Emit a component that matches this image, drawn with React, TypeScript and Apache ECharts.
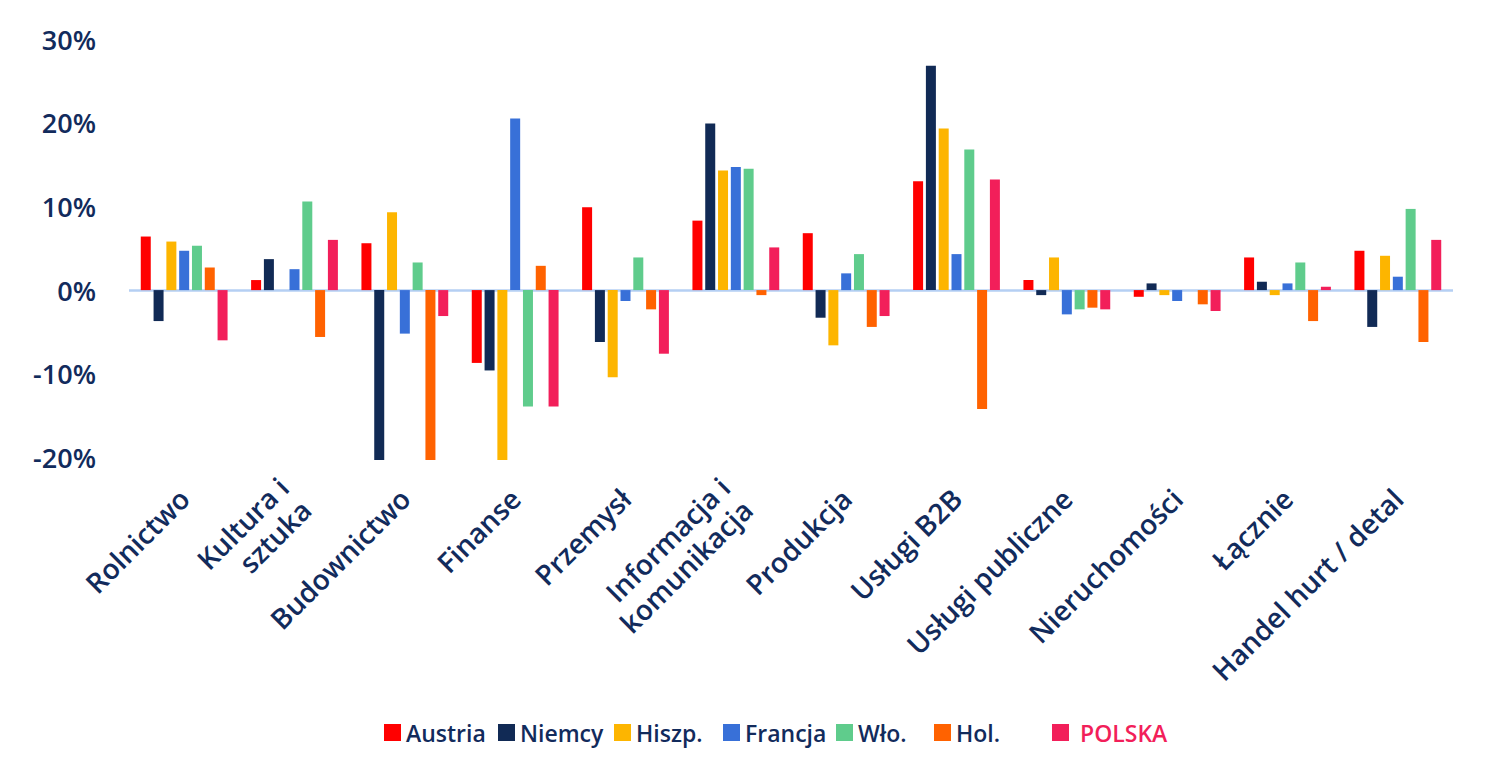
import React, { useEffect, useRef } from "react";
import * as echarts from "echarts";

const categories = [
  "Rolnictwo",
  "Kultura i\nsztuka",
  "Budownictwo",
  "Finanse",
  "Przemysł",
  "Informacja i\nkomunikacja",
  "Produkcja",
  "Usługi B2B",
  "Usługi publiczne",
  "Nieruchomości",
  "Łącznie",
  "Handel hurt / detal",
];

const austria = [6.4, 1.2, 5.6, -8.7, 9.9, 8.3, 6.8, 13.0, 1.2, -0.8, 3.9, 4.7];
const niemcy = [-3.7, 3.7, -20.3, -9.6, -6.2, 19.9, -3.3, 26.8, -0.6, 0.8, 1.0, -4.4];
const hiszp = [5.8, 0, 9.3, -20.3, -10.4, 14.3, -6.6, 19.3, 3.9, -0.6, -0.6, 4.1];
const francja = [4.7, 2.5, -5.2, 20.5, -1.3, 14.7, 2.0, 4.3, -2.9, -1.3, 0.8, 1.6];
const wlo = [5.3, 10.6, 3.3, -13.9, 3.9, 14.5, 4.3, 16.8, -2.3, 0, 3.3, 9.7];
const hol = [2.7, -5.6, -20.3, 2.9, -2.3, -0.6, -4.4, -14.2, -2.1, -1.7, -3.7, -6.2];
const polska = [-6.0, 6.0, -3.1, -13.9, -7.6, 5.1, -3.1, 13.2, -2.3, -2.5, 0.4, 6.0];

const seriesNames = ["Austria", "Niemcy", "Hiszp.", "Francja", "Wło.", "Hol.", "POLSKA"];
const seriesData = [austria, niemcy, hiszp, francja, wlo, hol, polska];
const seriesColors = ["#ff0000", "#112a55", "#fdb500", "#3870d8", "#5fcc8c", "#ff6200", "#f21f5a"];

const yTicks = [-20, -10, 0, 10, 20, 30];

const NAVY = "#122b5c";
const FONT = "Open Sans";
const legendLefts = [379, 493, 609, 718, 831, 929, 1047];

export default function App() {
  const ref = useRef<HTMLDivElement>(null);

  useEffect(() => {
    if (!ref.current) return;
    const chart = echarts.init(ref.current, undefined, { renderer: "svg" });

    const series: any[] = seriesNames.map((name, i) => ({
      name,
      type: "bar",
      data: seriesData[i],
      barWidth: 10,
      barGap: "28%",
      clip: false,
      itemStyle: { color: seriesColors[i] },
      ...(i === 0
        ? {
            markLine: {
              silent: true,
              symbol: "none",
              label: { show: false },
              lineStyle: { color: "#b5cff3", width: 2.5, type: "solid" },
              data: [{ yAxis: 0 }],
              z: 1,
            },
          }
        : {}),
    }));

    const legends = seriesNames.map((name, i) => ({
      data: [name],
      left: legendLefts[i],
      top: 716,
      icon: "rect",
      itemWidth: 17,
      itemHeight: 17,
      textStyle: {
        color: i === 6 ? "#f21f5a" : NAVY,
        fontSize: 23,
        fontFamily: FONT,
        fontWeight: 600,
        padding: i === 6 ? [0, 0, 0, 6] : [0, 0, 0, 0],
      },
    }));

    chart.setOption({
      animation: false,
      backgroundColor: "#ffffff",
      grid: { left: 129, right: 40, top: 39, bottom: 325.5, containLabel: false },
      legend: legends,
      xAxis: {
        type: "category",
        data: categories,
        axisLine: { show: false, onZero: false },
        axisTick: { show: false },
        axisLabel: {
          rotate: 45,
          margin: 36,
          interval: 0,
          color: NAVY,
          fontSize: 28,
          fontFamily: FONT,
          fontWeight: 600,
          lineHeight: 32,
        },
      },
      yAxis: {
        type: "value",
        min: -20,
        max: 30,
        interval: 10,
        splitLine: { show: false },
        axisLine: { show: false },
        axisTick: { show: false },
        axisLabel: {
          margin: 33,
          color: NAVY,
          fontSize: 27,
          fontFamily: FONT,
          fontWeight: 600,
          formatter: (v: number) => (yTicks.includes(v) ? `${v}%` : ""),
        },
      },
      series,
    });

    return () => chart.dispose();
  }, []);

  return <div ref={ref} style={{ width: 1493, height: 783, margin: -8 }} />;
}
